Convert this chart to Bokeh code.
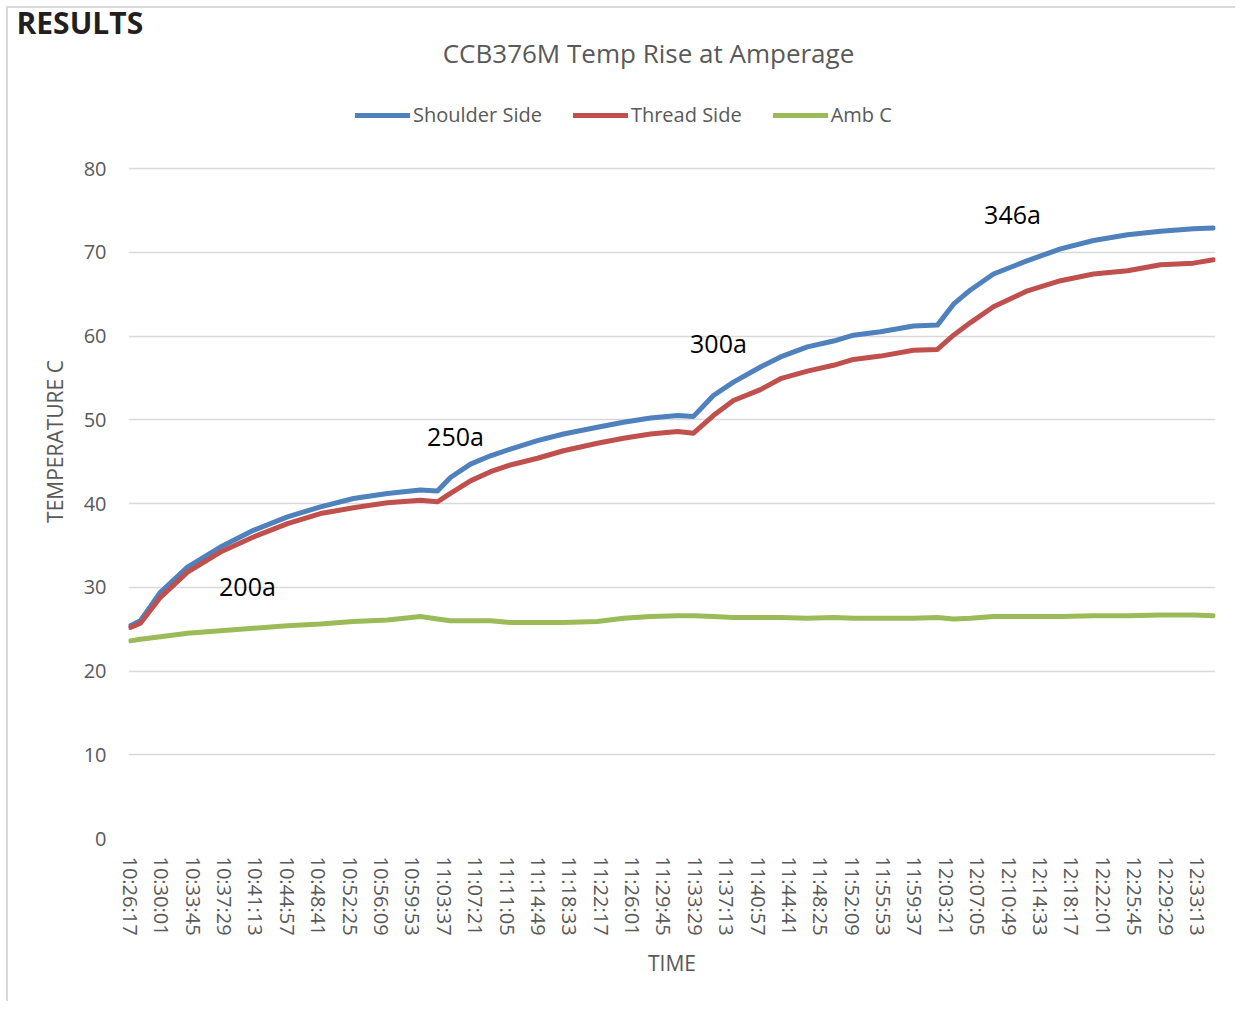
from bokeh.plotting import figure
from bokeh.models import Range1d, FixedTicker, Label, Legend, LegendItem, Title
from bokeh.embed import file_html
from bokeh.resources import INLINE

# ---------------- data ----------------
title_text = "CCB376M Temp Rise at Amperage"
header_text = "RESULTS"
x_title = "TIME"
y_title = "TEMPERATURE C"
series_names = ["Shoulder Side", "Thread Side", "Amb C"]
series_colors = ["#4F81BD", "#C0504D", "#9BBB59"]

times = ["10:26:17", "10:27:28", "10:29:51", "10:33:04", "10:36:59", "10:40:55", "10:44:58",
         "10:48:53", "10:52:49", "10:56:51", "11:00:47", "11:02:48", "11:04:21", "11:06:44",
         "11:09:07", "11:11:29", "11:14:42", "11:17:48", "11:21:50", "11:24:56", "11:28:09",
         "11:31:22", "11:33:16", "11:35:38", "11:38:01", "11:41:14", "11:43:37", "11:46:49",
         "11:49:55", "11:52:18", "11:55:31", "11:59:26", "12:02:17", "12:04:12", "12:06:13",
         "12:08:57", "12:13:00", "12:16:56", "12:20:51", "12:24:54", "12:28:50", "12:32:45",
         "12:35:07"]

shoulder = [25.4, 26.0, 29.4, 32.4, 34.8, 36.8, 38.4, 39.6, 40.6, 41.2, 41.6, 41.5, 43.1, 44.7,
            45.7, 46.5, 47.5, 48.3, 49.1, 49.7, 50.2, 50.5, 50.4, 52.9, 54.5, 56.3, 57.5, 58.7,
            59.4, 60.1, 60.5, 61.2, 61.3, 63.8, 65.5, 67.4, 69.0, 70.4, 71.4, 72.1, 72.5, 72.8,
            72.9]

thread = [25.2, 25.7, 28.8, 31.8, 34.2, 36.0, 37.6, 38.8, 39.5, 40.1, 40.4, 40.2, 41.2, 42.7,
          43.8, 44.6, 45.4, 46.3, 47.2, 47.8, 48.3, 48.6, 48.4, 50.5, 52.3, 53.6, 54.9, 55.8,
          56.5, 57.2, 57.6, 58.3, 58.4, 60.1, 61.6, 63.5, 65.4, 66.6, 67.4, 67.8, 68.5, 68.7,
          69.1]

ambient = [23.6, 23.8, 24.1, 24.5, 24.8, 25.1, 25.4, 25.6, 25.9, 26.1, 26.5, 26.2, 26.0, 26.0,
           26.0, 25.8, 25.8, 25.8, 25.9, 26.3, 26.5, 26.6, 26.6, 26.5, 26.4, 26.4, 26.4, 26.3,
           26.4, 26.3, 26.3, 26.3, 26.4, 26.2, 26.3, 26.5, 26.5, 26.5, 26.6, 26.6, 26.7, 26.7,
           26.6]

tick_labels = ["10:26:17", "10:30:01", "10:33:45", "10:37:29", "10:41:13", "10:44:57", "10:48:41",
               "10:52:25", "10:56:09", "10:59:53", "11:03:37", "11:07:21", "11:11:05", "11:14:49",
               "11:18:33", "11:22:17", "11:26:01", "11:29:45", "11:33:29", "11:37:13", "11:40:57",
               "11:44:41", "11:48:25", "11:52:09", "11:55:53", "11:59:37", "12:03:21", "12:07:05",
               "12:10:49", "12:14:33", "12:18:17", "12:22:01", "12:25:45", "12:29:29", "12:33:13"]

y_ticks = [0, 10, 20, 30, 40, 50, 60, 70, 80]

annot_text = ["200a", "250a", "300a", "346a"]
annot_time = ["10:40:12", "11:04:57", "11:36:14", "12:11:13"]
annot_temp = [30.1, 48.1, 59.2, 74.6]


def secs(s):
    h, m, sec = map(int, s.split(":"))
    return h * 3600 + m * 60 + sec


t0 = secs(times[0])
x = [secs(s) - t0 for s in times]
tick_pos = [secs(s) - t0 for s in tick_labels]

FONT = "Open Sans"
GREY = "#595959"

p = figure(width=1235, height=1001, output_backend="svg", toolbar_location=None,
           title=None,
           x_range=Range1d(-14, 7745), y_range=Range1d(0, 94.806),
           min_border_left=128, min_border_right=20, min_border_top=44, min_border_bottom=163)
p.background_fill_color = None
p.border_fill_color = None
p.outline_line_color = None
p.styles = {"background": "linear-gradient(#d9d9d9, #d9d9d9) 6px 6px / 2px 100% no-repeat, "
                          "linear-gradient(#d9d9d9, #d9d9d9) 6px 6px / 100% 2px no-repeat, white"}

# section header (cut off at page edge in the original)
p.add_layout(Title(text=header_text, align="left", offset=-112, standoff=0,
                   vertical_align="top", text_font=FONT, text_font_size="30px",
                   text_font_style="bold", text_color="#231F20"), "above")

# axes
p.xaxis.ticker = FixedTicker(ticks=tick_pos)
p.xaxis.major_label_overrides = {tp: lab for tp, lab in zip(tick_pos, tick_labels)}
p.xaxis.major_label_orientation = "vertical"
p.yaxis.ticker = FixedTicker(ticks=y_ticks)
for ax in (p.xaxis[0], p.yaxis[0]):
    ax.axis_line_color = None
    ax.major_tick_line_color = None
    ax.minor_tick_line_color = None
    ax.major_tick_in = 0
    ax.major_tick_out = 0
    ax.major_label_text_font = FONT
    ax.major_label_text_font_size = "20px"
    ax.major_label_text_color = GREY
    ax.axis_label_text_font = FONT
    ax.axis_label_text_font_size = "21px"
    ax.axis_label_text_font_style = "normal"
    ax.axis_label_text_color = GREY
p.xaxis.axis_label = x_title
p.yaxis.axis_label = y_title
p.xaxis.major_label_standoff = 18
p.yaxis.major_label_standoff = 22
p.xaxis.axis_label_standoff = 10
p.yaxis.axis_label_standoff = 12

p.xgrid.grid_line_color = None
p.ygrid.grid_line_color = "#D9D9D9"
p.ygrid.grid_line_width = 1.3

# series
renderers = []
for vals, col in zip([shoulder, thread, ambient], series_colors):
    r = p.line(x, vals, line_color=col, line_width=5, line_cap="round", line_join="round")
    renderers.append(r)

legend = Legend(items=[LegendItem(label=n, renderers=[r]) for n, r in zip(series_names, renderers)],
                location=(227, 710), orientation="horizontal",
                glyph_width=55, glyph_height=24, label_standoff=3, spacing=31,
                padding=0, margin=0, border_line_color=None, background_fill_alpha=0,
                label_text_font=FONT, label_text_font_size="20px", label_text_color=GREY)
p.add_layout(legend)

# chart title
p.add_layout(Label(x=520, y=786, x_units="screen", y_units="screen", text=title_text,
                   text_align="center", text_baseline="middle", text_font=FONT,
                   text_font_size="26px", text_color=GREY))

# current annotations
for txt, tm, tv in zip(annot_text, annot_time, annot_temp):
    p.add_layout(Label(x=secs(tm) - t0, y=tv, text=txt, text_align="center",
                       text_baseline="middle", text_font=FONT, text_font_size="25px",
                       text_color="black"))

open("out.html", "w").write(file_html(p, INLINE))
